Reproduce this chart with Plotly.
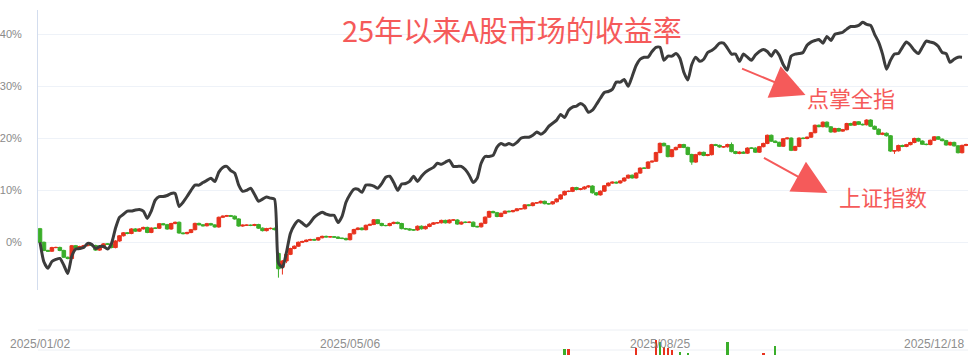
import plotly.graph_objects as go

# ---------------- data (percent return vs. 2025/01/02 close) ----------------
# 上证指数 daily candles, trading-day index 0 .. 233 (2025/01/02 .. 2025/12/18)
open_pct = [
    2.62, 0.00, -1.57, -1.71, -1.01, -0.99, -1.57, -2.88, -3.12, -0.66,
    -1.09, -0.81, -0.64, -0.56, -0.61, -1.50, -0.99, -0.30, -0.37, -1.01,
    0.25, 1.26, 1.83, 1.70, 2.57, 2.14, 2.58, 2.86, 1.90, 2.73,
    2.70, 3.57, 3.39, 2.56, 3.61, 3.85, 1.79, 1.67, 1.89, 2.43,
    3.63, 3.37, 3.18, 3.59, 3.35, 2.95, 4.81, 5.02, 5.12, 5.02,
    4.49, 3.13, 3.29, 3.29, 3.25, 3.41, 2.72, 2.24, 2.63, 2.68,
    -2.13, -4.80, -3.59, -2.32, -1.19, -0.75, 0.01, 0.16, 0.41, 0.54,
    0.43, 0.88, 1.14, 1.04, 1.06, 1.00, 0.79, 0.74, 0.50, 1.64,
    2.46, 2.74, 2.43, 3.27, 3.44, 4.33, 3.62, 3.22, 3.22, 3.61,
    3.83, 3.61, 2.63, 2.58, 2.39, 2.37, 3.09, 2.60, 3.05, 3.48,
    3.73, 3.76, 4.21, 3.75, 4.28, 4.29, 3.51, 3.87, 3.83, 3.87,
    3.05, 2.98, 3.65, 4.84, 5.93, 5.70, 4.96, 5.57, 5.98, 5.89,
    6.09, 6.43, 6.45, 7.20, 7.06, 7.57, 7.59, 7.88, 7.43, 7.39,
    7.79, 8.33, 9.11, 9.79, 9.80, 10.52, 10.15, 10.28, 10.64, 10.82,
    9.52, 9.12, 9.83, 10.88, 11.38, 11.56, 11.42, 11.80, 12.36, 12.90,
    12.38, 13.31, 14.27, 14.24, 15.44, 15.59, 17.26, 19.03, 18.57, 16.48,
    17.81, 18.25, 18.79, 18.25, 16.89, 15.43, 16.86, 17.30, 16.70, 16.85,
    18.78, 18.64, 18.33, 18.37, 18.81, 17.44, 17.09, 17.35, 17.14, 18.12,
    18.11, 17.33, 18.39, 19.01, 20.58, 19.45, 19.22, 18.47, 19.91, 20.04,
    17.69, 18.43, 20.04, 19.96, 20.22, 21.08, 22.51, 22.24, 23.10, 22.20,
    21.22, 21.88, 21.38, 21.66, 22.84, 22.53, 23.17, 22.69, 22.61, 23.51,
    22.31, 21.75, 20.76, 20.97, 20.49, 17.54, 17.60, 18.62, 18.44, 18.78,
    19.19, 19.97, 19.47, 18.86, 18.80, 19.62, 20.28, 19.83, 19.55, 18.72,
    19.21, 18.55, 17.23, 18.63,
]
close_pct = [
    0.00, -1.57, -1.71, -1.01, -0.99, -1.57, -2.88, -3.12, -0.66, -1.09,
    -0.81, -0.64, -0.56, -0.61, -1.50, -0.99, -0.30, -0.37, -1.01, 0.25,
    1.26, 1.83, 1.70, 2.57, 2.14, 2.58, 2.86, 1.90, 2.73, 2.70,
    3.57, 3.39, 2.56, 3.61, 3.85, 1.79, 1.67, 1.89, 2.43, 3.63,
    3.37, 3.18, 3.59, 3.35, 2.95, 4.81, 5.02, 5.12, 5.02, 4.49,
    3.13, 3.29, 3.29, 3.25, 3.41, 2.72, 2.24, 2.63, 2.68, 2.44,
    -5.09, -3.59, -2.32, -1.19, -0.75, 0.01, 0.16, 0.41, 0.54, 0.43,
    0.88, 1.14, 1.04, 1.06, 1.00, 0.79, 0.74, 0.50, 1.64, 2.46,
    2.74, 2.43, 3.27, 3.44, 4.33, 3.62, 3.22, 3.22, 3.61, 3.83,
    3.61, 2.63, 2.58, 2.39, 2.37, 3.09, 2.60, 3.05, 3.48, 3.73,
    3.76, 4.21, 3.75, 4.28, 4.29, 3.51, 3.87, 3.83, 3.87, 3.05,
    2.98, 3.65, 4.84, 5.93, 5.70, 4.96, 5.57, 5.98, 5.89, 6.09,
    6.43, 6.45, 7.20, 7.06, 7.57, 7.59, 7.88, 7.43, 7.39, 7.79,
    8.33, 9.11, 9.79, 9.80, 10.52, 10.15, 10.28, 10.64, 10.82, 9.52,
    9.12, 9.83, 10.88, 11.38, 11.56, 11.42, 11.80, 12.36, 12.90, 12.38,
    13.31, 14.27, 14.24, 15.44, 15.59, 17.26, 19.03, 18.57, 16.48, 17.81,
    18.25, 18.79, 18.25, 16.89, 15.43, 16.86, 17.30, 16.70, 16.85, 18.78,
    18.64, 18.33, 18.37, 18.81, 17.44, 17.09, 17.35, 17.14, 18.12, 18.11,
    17.33, 18.39, 19.01, 20.58, 19.45, 19.22, 18.47, 19.91, 20.04, 17.69,
    18.43, 20.04, 19.96, 20.22, 21.08, 22.51, 22.24, 23.10, 22.20, 21.22,
    21.88, 21.38, 21.66, 22.84, 22.53, 23.17, 22.69, 22.61, 23.51, 22.31,
    21.75, 20.76, 20.97, 20.49, 17.54, 17.60, 18.62, 18.44, 18.78, 19.19,
    19.97, 19.47, 18.86, 18.80, 19.62, 20.28, 19.83, 19.55, 18.72, 19.21,
    18.55, 17.23, 18.63, 18.81,
]
high_pct = [
    2.77, 0.15, -1.42, -0.86, -0.84, -0.84, -1.42, -2.73, -0.51, -0.51,
    -0.66, -0.49, -0.41, -0.41, -0.46, -0.84, -0.15, -0.15, -0.22, 0.40,
    1.41, 1.98, 1.98, 2.72, 2.72, 2.73, 3.01, 3.01, 2.88, 2.88,
    3.72, 3.72, 3.54, 3.76, 4.00, 4.00, 1.94, 2.04, 2.58, 3.78,
    3.78, 3.52, 3.74, 3.74, 3.50, 4.96, 5.17, 5.27, 5.27, 5.17,
    4.64, 3.44, 3.44, 3.44, 3.56, 3.56, 2.87, 2.78, 2.83, 2.83,
    -1.90, -3.40, -2.17, -1.04, -0.60, 0.16, 0.31, 0.56, 0.69, 0.69,
    1.03, 1.29, 1.29, 1.21, 1.21, 1.15, 0.94, 0.89, 1.79, 2.61,
    2.89, 2.89, 3.42, 3.59, 4.48, 4.48, 3.77, 3.37, 3.76, 3.98,
    3.98, 3.76, 2.78, 2.73, 2.54, 3.24, 3.24, 3.20, 3.63, 3.88,
    3.91, 4.36, 4.36, 4.43, 4.44, 4.44, 4.02, 4.02, 4.02, 4.02,
    3.20, 3.80, 4.99, 6.08, 6.08, 5.85, 5.72, 6.13, 6.13, 6.24,
    6.58, 6.60, 7.35, 7.35, 7.72, 7.74, 8.03, 8.03, 7.58, 7.94,
    8.48, 9.26, 9.94, 9.95, 10.67, 10.67, 10.43, 10.79, 10.97, 10.97,
    9.67, 9.98, 11.03, 11.53, 11.71, 11.71, 11.95, 12.51, 13.05, 13.05,
    13.46, 14.42, 14.42, 15.59, 15.74, 17.41, 19.18, 19.18, 18.72, 17.96,
    18.40, 18.94, 18.94, 18.40, 17.04, 17.01, 17.45, 17.45, 17.00, 18.93,
    18.93, 18.79, 18.52, 18.96, 19.20, 17.59, 17.50, 17.50, 18.27, 18.27,
    18.26, 18.54, 19.16, 20.73, 20.73, 19.60, 19.37, 20.06, 20.19, 20.19,
    18.58, 20.19, 20.19, 20.37, 21.23, 22.66, 22.66, 23.25, 23.25, 22.35,
    22.03, 22.03, 21.81, 22.99, 22.99, 23.32, 23.32, 22.84, 23.66, 23.66,
    22.46, 21.90, 21.12, 21.12, 20.64, 17.75, 18.77, 18.77, 18.93, 19.34,
    20.12, 20.12, 19.62, 19.01, 19.77, 20.43, 20.43, 19.98, 19.70, 19.36,
    19.36, 18.70, 18.78, 18.96,
]
low_pct = [
    -0.30, -1.72, -1.86, -1.86, -1.16, -1.72, -3.03, -3.27, -3.27, -1.24,
    -1.24, -0.96, -0.79, -0.76, -1.65, -1.65, -1.14, -0.52, -1.16, -1.16,
    0.10, 1.11, 1.55, 1.55, 1.99, 1.99, 2.43, 1.75, 1.75, 2.55,
    2.55, 3.24, 2.41, 2.41, 3.46, 1.64, 1.52, 1.52, 1.74, 2.28,
    3.22, 3.03, 3.03, 3.20, 2.80, 2.80, 4.66, 4.87, 4.87, 4.34,
    2.98, 2.98, 3.14, 3.10, 3.10, 2.57, 2.09, 2.09, 2.48, 2.29,
    -6.80, -6.20, -4.00, -2.47, -1.34, -0.90, -0.14, 0.01, 0.26, 0.28,
    0.28, 0.73, 0.89, 0.89, 0.85, 0.64, 0.59, 0.35, 0.35, 1.49,
    2.31, 2.28, 2.28, 3.12, 3.29, 3.47, 3.07, 3.07, 3.07, 3.46,
    3.46, 2.48, 2.43, 2.24, 2.22, 2.22, 2.45, 2.45, 2.90, 3.33,
    3.58, 3.61, 3.60, 3.60, 4.13, 3.36, 3.36, 3.68, 3.68, 2.90,
    2.83, 2.83, 3.50, 4.69, 5.55, 4.81, 4.81, 5.42, 5.74, 5.74,
    5.94, 6.28, 6.30, 6.91, 6.91, 7.42, 7.44, 7.28, 7.24, 7.24,
    7.64, 8.18, 8.96, 9.64, 9.65, 10.00, 10.00, 10.13, 10.49, 9.37,
    8.97, 8.97, 9.68, 10.73, 11.23, 11.27, 11.27, 11.65, 12.21, 12.23,
    12.23, 13.16, 14.09, 14.09, 15.29, 15.44, 17.11, 18.42, 16.33, 16.33,
    17.66, 18.10, 18.10, 16.74, 14.90, 15.28, 16.71, 16.55, 16.55, 16.70,
    18.49, 18.18, 18.18, 18.22, 17.29, 16.94, 16.94, 16.99, 16.99, 17.96,
    17.18, 17.18, 18.24, 18.86, 19.30, 19.07, 18.32, 18.32, 19.76, 17.54,
    17.54, 18.28, 19.81, 19.81, 20.07, 20.93, 22.09, 22.09, 22.05, 21.07,
    21.07, 21.23, 21.23, 21.51, 22.38, 22.38, 22.54, 22.46, 22.46, 22.16,
    21.60, 20.61, 20.61, 20.34, 17.39, 17.00, 17.45, 18.29, 18.29, 18.63,
    19.04, 19.32, 18.71, 18.65, 18.65, 19.47, 19.68, 19.40, 18.57, 18.57,
    18.40, 17.08, 17.08, 18.48,
]

# 点掌全指 cumulative return, trading-day index 0 .. 232
dianzhang_pct = [
    0.0, -3.8, -5.0, -3.7, -3.3, -3.1, -4.4, -6.0, -2.7, -1.3,
    -1.2, -1.0, -0.2, -0.4, -1.2, -0.8, -0.8, -1.3, -0.2, 2.7,
    4.8, 5.4, 6.0, 6.0, 6.2, 6.3, 6.0, 4.6, 6.0, 8.1,
    8.8, 8.8, 9.0, 9.4, 9.4, 6.9, 7.7, 8.8, 10.0, 11.0,
    11.0, 11.5, 11.9, 12.3, 11.7, 13.5, 14.4, 14.6, 13.8, 13.3,
    11.0, 9.8, 10.0, 10.4, 9.2, 7.9, 8.3, 8.7, 8.5, 8.3,
    -4.0, -4.8, -2.0, 1.7, 3.3, 4.2, 3.7, 3.1, 3.8, 4.8,
    5.4, 5.8, 5.4, 5.2, 5.2, 3.8, 5.0, 7.7, 9.2, 10.2,
    10.2, 9.6, 11.0, 11.0, 10.8, 10.4, 11.3, 12.5, 12.7, 11.5,
    10.0, 11.2, 11.3, 11.7, 12.7, 11.7, 12.7, 13.5, 14.0, 14.4,
    15.2, 15.0, 15.4, 15.8, 14.6, 14.6, 14.6, 14.0, 12.9, 11.5,
    12.3, 15.2, 16.5, 16.5, 16.7, 18.3, 19.0, 18.7, 19.0, 18.7,
    19.2, 20.0, 20.2, 20.2, 20.6, 21.2, 20.8, 21.3, 22.3, 22.9,
    23.5, 24.6, 24.0, 25.4, 26.0, 26.2, 26.7, 26.2, 25.0, 25.4,
    26.5, 27.7, 28.8, 29.0, 29.4, 30.8, 30.8, 31.3, 30.0, 31.9,
    34.0, 35.2, 35.6, 35.6, 36.7, 37.5, 37.5, 35.0, 35.8, 35.8,
    36.3, 35.4, 32.7, 31.2, 34.2, 35.6, 34.8, 35.2, 36.5, 36.9,
    37.5, 38.3, 38.3, 37.3, 36.2, 36.2, 34.8, 36.2, 35.6, 35.0,
    36.0, 36.7, 37.1, 36.7, 35.8, 36.9, 36.0, 34.2, 33.1, 35.8,
    36.2, 36.3, 36.5, 37.9, 38.5, 38.8, 39.0, 38.3, 39.6, 38.8,
    40.0, 40.2, 40.4, 41.0, 41.5, 41.5, 41.7, 42.3, 41.9, 41.7,
    40.0, 38.5, 36.2, 33.3, 35.0, 36.2, 36.3, 37.5, 38.5, 37.9,
    36.9, 36.3, 37.5, 38.7, 38.5, 38.3, 37.7, 36.5, 36.3, 34.6,
    35.2, 35.6, 35.6,
]

# volume bars whose tops reach into the visible strip at the bottom
vol_days = [132, 133, 150, 155, 156, 157, 158, 159, 161, 163, 173, 182, 185]
vol_values = [1060, 1060, 1070, 1150, 1130, 1080, 1070, 1050, 1030, 1020, 1130, 1020, 1090]
vol_up = [False, True, True, True, False, True, True, True, False, False, False, True, False]

# axis ticks
y_ticks = [0, 10, 20, 30, 40]
y_tick_text = ["0%", "10%", "20%", "30%", "40%"]
x_tick_days = [0, 78, 156]
x_tick_labels = ["2025/01/02", "2025/05/06", "2025/08/25"]
last_tick_day = 233
last_tick_label = "2025/12/18"

trade_days = list(range(len(close_pct)))
line_days = list(range(len(dianzhang_pct)))

# ---------------- styling ----------------
RED = "#e8321e"
GREEN = "#3aae2a"
ANNO_RED = "#f55a5a"
W, H = 968, 355
ML = 35

fig = go.Figure()

fig.add_trace(go.Candlestick(
    x=trade_days, open=open_pct, high=high_pct, low=low_pct, close=close_pct,
    increasing=dict(line=dict(color=RED, width=1), fillcolor=RED),
    decreasing=dict(line=dict(color=GREEN, width=1), fillcolor=GREEN),
    whiskerwidth=0, showlegend=False, hoverinfo="skip",
    xaxis="x", yaxis="y",
))

fig.add_trace(go.Scatter(
    x=line_days, y=dianzhang_pct, mode="lines",
    line=dict(color="#3c3c3c", width=3, shape="spline", smoothing=0.6),
    showlegend=False, hoverinfo="skip", xaxis="x", yaxis="y",
))

fig.add_trace(go.Bar(
    x=vol_days, y=vol_values,
    marker=dict(color=[RED if u else GREEN for u in vol_up], line=dict(width=0)),
    width=0.6, showlegend=False, hoverinfo="skip", xaxis="x2", yaxis="y2",
))

def py(px):
    return (H - px) / H

def pxx(px):
    return (px - ML) / (W - ML)

fig.update_layout(
    width=W, height=H,
    margin=dict(l=ML, r=0, t=0, b=0),
    paper_bgcolor="white", plot_bgcolor="rgba(0,0,0,0)",
    font=dict(family="Liberation Sans, Arial, sans-serif"),
    boxgap=0.1, boxgroupgap=0,
    xaxis=dict(domain=[0, 1], range=[-0.5, 233.5], showgrid=False, zeroline=False,
               showline=False, showticklabels=False, ticks="",
               rangeslider=dict(visible=False), fixedrange=True),
    yaxis=dict(domain=[py(290), py(10)],
               range=[-(290 - 242.3) / 5.2, (242.3 - 10) / 5.2],
               tickvals=y_ticks, ticktext=y_tick_text,
               tickfont=dict(size=11, color="#8a8a8a"),
               ticklabelstandoff=13,
               showgrid=True, gridcolor="#eef2f8", gridwidth=1,
               zeroline=False, showline=True, linecolor="#d3ddee", linewidth=1,
               ticks=""),
    xaxis2=dict(domain=[0, 1], matches="x", anchor="y2", showgrid=False,
                zeroline=False, showline=False, showticklabels=False,
                rangeslider=dict(visible=False)),
    yaxis2=dict(domain=[0, py(338)], range=[1000, 1170], showgrid=False,
                zeroline=False, showline=False, showticklabels=False),
    bargap=0,
)

shapes = []
for ypx in (330, 350):
    shapes.append(dict(type="line", xref="paper", yref="paper", x0=0, x1=1,
                       y0=py(ypx), y1=py(ypx), line=dict(color="#eceff4", width=1),
                       layer="below"))
fig.update_layout(shapes=shapes)

annotations = []
for d, lab in zip(x_tick_days, x_tick_labels):
    annotations.append(dict(x=d, y=py(344), xref="x", yref="paper", text=lab,
                            showarrow=False, xanchor="center", yanchor="middle",
                            font=dict(size=12, color="#8e8e8e")))
annotations.append(dict(x=last_tick_day, y=py(344), xref="x", yref="paper",
                        text=last_tick_label, showarrow=False, xanchor="right",
                        yanchor="middle", font=dict(size=12, color="#8e8e8e")))

cjk = "Noto Sans CJK SC"
annotations.append(dict(x=pxx(511), y=py(29), xref="paper", yref="paper",
                        text="25年以来A股市场的收益率", showarrow=False,
                        xanchor="center", yanchor="middle",
                        font=dict(family=cjk, size=29, color=ANNO_RED)))
annotations.append(dict(x=pxx(851), y=py(97), xref="paper", yref="paper",
                        text="点掌全指", showarrow=False,
                        xanchor="center", yanchor="middle",
                        font=dict(family=cjk, size=22, color=ANNO_RED)))
annotations.append(dict(x=pxx(883), y=py(196), xref="paper", yref="paper",
                        text="上证指数", showarrow=False,
                        xanchor="center", yanchor="middle",
                        font=dict(family=cjk, size=22, color=ANNO_RED)))
# arrows
annotations.append(dict(x=pxx(805), y=py(95), xref="paper", yref="paper", text="",
                        showarrow=True, ax=-65, ay=-27, arrowhead=2, arrowsize=3.4,
                        arrowwidth=2, arrowcolor=ANNO_RED, standoff=0))
annotations.append(dict(x=pxx(827), y=py(193), xref="paper", yref="paper", text="",
                        showarrow=True, ax=-65, ay=-36, arrowhead=2, arrowsize=3.4,
                        arrowwidth=2, arrowcolor=ANNO_RED, standoff=0))
fig.update_layout(annotations=annotations)

fig.write_html("out.html", include_plotlyjs=True, config={"displayModeBar": False})
